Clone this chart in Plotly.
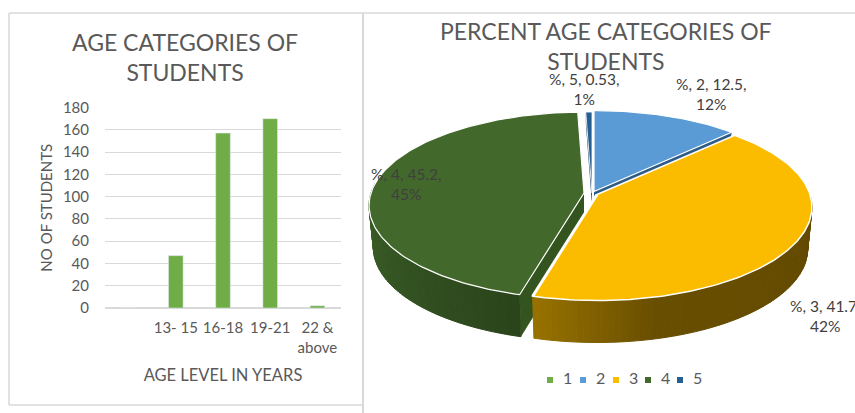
import math
import plotly.graph_objects as go

# ---------- data ----------
age_labels = [" ", "13- 15", "16-18", "19-21", "22 &<br>above"]
student_counts = [0, 47, 157, 170, 2]
y_ticks = [0, 20, 40, 60, 80, 100, 120, 140, 160, 180]

pie_categories = [1, 2, 3, 4, 5]
pie_percent = [0, 12.5, 41.7, 45.2, 0.53]
pie_rounded = [0, 12, 42, 45, 1]

# ---------- style ----------
FONT = "Lato"
GREY = "#595959"
DARK = "#404040"
colors = ["#70ad47", "#5b9bd5", "#fbbc00", "#43682b", "#255e91"]
# keyed by slice index
wall_colors = {1: "#2e5c86", 3: "#33531f", 4: "#12365a"}
apex = {1: (594, 191.5), 2: (597, 194.5), 3: (584, 193), 4: (592, 193)}
RX, RY, PERSP, DEPTH = 213, 91.8, 0.134, 42

fig = go.Figure()

# ---------- left: bar chart ----------
fig.add_trace(go.Bar(x=age_labels, y=student_counts, marker_color=colors[0],
                     xaxis="x", yaxis="y", showlegend=False, width=0.31))

# ---------- right: perspective pie, angles derived from the values ----------
total = sum(pie_percent)
angles = []
acc = 0.0
for v in pie_percent:
    angles.append((acc / total * 360, (acc + v) / total * 360))
    acc += v


def pt(i, deg):
    a = math.radians(deg)
    u, v = math.sin(a), math.cos(a)
    w = 1 + PERSP * v
    ax, ay = apex[i]
    return ax + RX * u / w, ay - RY * v / w


def arc(i, d0, d1, step=1.0):
    n = max(2, int(abs(d1 - d0) / step) + 1)
    return [pt(i, d0 + (d1 - d0) * k / (n - 1)) for k in range(n)]


def low(i, p, depth=DEPTH):
    ax = apex[i][0]
    return ax + 0.98 * (p[0] - ax), p[1] + depth


def poly(points, fill, line=None, width=0.0):
    xs = [p[0] for p in points] + [points[0][0]]
    ys = [p[1] for p in points] + [points[0][1]]
    fig.add_trace(go.Scatter(x=xs, y=ys, mode="lines", fill="toself", fillcolor=fill,
                             line=dict(color=line or fill, width=width),
                             xaxis="x2", yaxis="y2", showlegend=False, hoverinfo="skip"))


def mix(c0, c1, t):
    t = max(0.0, min(1.0, t))
    return "rgb(%d,%d,%d)" % tuple(round(a + (b - a) * t) for a, b in zip(c0, c1))


def wall(i, d0, d1, stops, step=1.5):
    n = int(abs(d1 - d0) / step) + 1
    for k in range(n):
        a = d0 + (d1 - d0) * k / n
        b = d0 + (d1 - d0) * (k + 1) / n
        tp = arc(i, a, b, 1.0)
        bot = [low(i, p) for p in reversed(tp)]
        f = (k + 0.5) / n
        if f < stops[1]:
            col = mix(stops[0], stops[2], f / stops[1])
        else:
            col = mix(stops[2], stops[3], (f - stops[1]) / (1 - stops[1]))
        poly(tp + bot, col, col, 1.0)


def cut_wall(i, deg, depth=DEPTH):
    a = apex[i]
    b = pt(i, deg)
    poly([a, b, low(i, b, depth), (a[0], a[1] + depth)], wall_colors[i])


def top(i):
    d0, d1 = angles[i]
    return [apex[i]] + arc(i, d0, d1)


# back to front
wall(3, 276, angles[3][0], [(62, 100, 42), 0.5, (52, 84, 34), (42, 68, 27)])
cut_wall(3, angles[3][0])
cut_wall(4, angles[4][0], 12)
cut_wall(1, angles[1][1], 20)
poly(top(4), colors[4], "white", 0.8)
poly(top(1), colors[1], "white", 1.2)
poly(top(3), colors[3], "white", 1.2)
wall(2, 92, angles[2][1], [(98, 73, 0), 0.72, (104, 78, 0), (152, 114, 0)])
poly(top(2), colors[2], "white", 1.5)
gap = [apex[2], pt(2, angles[2][1])]
fig.add_trace(go.Scatter(x=[p[0] for p in gap], y=[p[1] for p in gap], mode="lines",
                         line=dict(color="white", width=3), xaxis="x2", yaxis="y2",
                         showlegend=False, hoverinfo="skip"))

# legend row
legend_x = [550, 583, 616, 648, 680]
fig.add_trace(go.Scatter(x=legend_x, y=[380] * 5, mode="markers+text",
                         marker=dict(symbol="square", size=6, color=colors),
                         text=["  " + str(c) for c in pie_categories], textposition="middle right",
                         textfont=dict(family=FONT, size=16, color=GREY),
                         xaxis="x2", yaxis="y2", showlegend=False, hoverinfo="skip"))

# ---------- text ----------
ann = []


def label(x, y, text, size, color=GREY, **kw):
    ann.append(dict(x=x, y=y, xref="x2", yref="y2", text=text, showarrow=False,
                    font=dict(family=FONT, size=size, color=color), align="center", **kw))


label(185, 57, "AGE CATEGORIES OF<br>STUDENTS", 23)
label(606, 46, "PERCENT AGE CATEGORIES OF<br>STUDENTS", 23)

label_pos = {5: (584, 89), 2: (711, 94), 4: (406, 184), 3: (825, 316)}
for idx, cat in enumerate(pie_categories):
    if cat in label_pos:
        x, y = label_pos[cat]
        label(x, y, f"%, {cat}, {pie_percent[idx]},<br>{pie_rounded[idx]}%", 15.5, DARK)

# ---------- panels ----------
BORDER = "#d9d9d9"
shapes = [
    dict(type="line", xref="x2", yref="y2", x0=9, x1=855, y0=13, y1=13, line=dict(color=BORDER, width=1.5)),
    dict(type="line", xref="x2", yref="y2", x0=9, x1=9, y0=13, y1=405, line=dict(color=BORDER, width=1.5)),
    dict(type="line", xref="x2", yref="y2", x0=9, x1=363, y0=405, y1=405, line=dict(color=BORDER, width=1.5)),
    dict(type="line", xref="x2", yref="y2", x0=363, x1=363, y0=13, y1=413, line=dict(color=BORDER, width=2)),
]

W, H = 855, 413
fig.update_layout(
    width=W, height=H, autosize=False,
    margin=dict(l=0, r=0, t=0, b=0),
    paper_bgcolor="white", plot_bgcolor="rgba(0,0,0,0)",
    showlegend=False, annotations=ann, shapes=shapes,
    xaxis=dict(domain=[105 / W, 341 / W], anchor="y", type="category", automargin=False,
               categoryorder="array", categoryarray=age_labels,
               tickfont=dict(family=FONT, size=15, color=GREY), showgrid=False,
               showline=False, ticks="", tickangle=0, ticklabelstandoff=9,
               title=dict(text="AGE LEVEL IN YEARS", font=dict(family=FONT, size=16.5, color=GREY), standoff=14)),
    yaxis=dict(domain=[1 - 308 / H, 1 - 107.5 / H], anchor="x", range=[0, 180], automargin=False,
               tickvals=y_ticks, tickfont=dict(family=FONT, size=15, color=GREY),
               gridcolor=BORDER, gridwidth=1, zeroline=True, zerolinecolor=BORDER,
               ticks="", showline=False, ticklabelstandoff=15,
               title=dict(text="NO OF STUDENTS", font=dict(family=FONT, size=15, color=GREY), standoff=6)),
    xaxis2=dict(domain=[0, 1], range=[0, W], anchor="y2", visible=False, fixedrange=True, automargin=False),
    yaxis2=dict(domain=[0, 1], range=[H, 0], anchor="x2", visible=False, fixedrange=True, automargin=False),
)

fig.write_html("out.html", config={"displayModeBar": False},
               post_script="document.body.style.margin='0';document.documentElement.style.overflow='hidden';")
